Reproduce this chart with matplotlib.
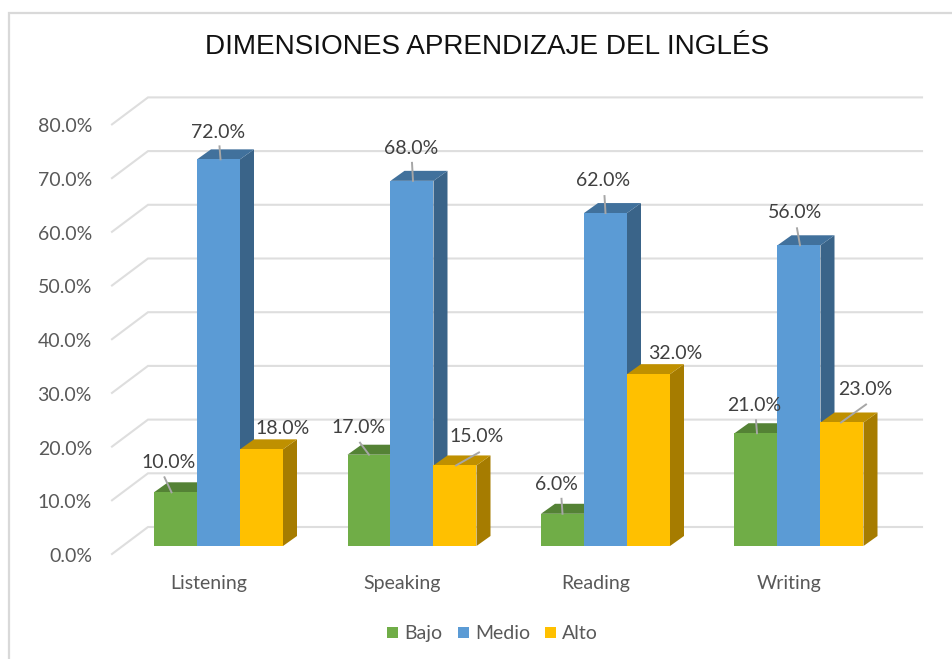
from matplotlib import pyplot as plt
from matplotlib.patches import Polygon

plt.rcParams['font.family'] = ['Lato', 'DejaVu Sans']

categories = ["Listening", "Speaking", "Reading", "Writing"]
bajo = [10.0, 17.0, 6.0, 21.0]
medio = [72.0, 68.0, 62.0, 56.0]
alto = [18.0, 15.0, 32.0, 23.0]
series_names = ["Bajo", "Medio", "Alto"]
y_ticks = [0, 10, 20, 30, 40, 50, 60, 70, 80]

front_colors = ["#70AD47", "#5B9BD5", "#FFC000"]
top_colors = ["#548235", "#41719C", "#BF9000"]
side_colors = ["#4E7A32", "#3A6489", "#A67C00"]
grid_color = "#DEDEDE"
text_color = "#595959"

# one x unit is one category, one y unit is one percent
PX_X = 193.5
PX_Y = 5.37
W, H = 952, 659
BASE_PX = 546.0
FIRST_PX = 218.5

# label centre, then leader start and end, as pixel offsets from the bar top centre
bajo_layout = [(-7, 31, -4, 0, -11, 15), (-10, 29, 0, 0, -9, 12),
               (-6, 31, 0, 0, -1, 15), (-2, 29, 1, 0, 0, 13)]
medio_layout = [(0, 28, 2, 0, 1, 13), (-1, 34, 1, 0, 0, 18),
                (-2, 34, 0, 0, -1, 17), (-4, 34, 1, 0, -2, 17)]
alto_layout = [(21, 22, None, None, None, None), (22, 30, 1, 0, 24, 13),
               (27, 22, None, None, None, None), (23, 34, -1, 0, 24, 18)]


def px_x(p):
    return (p - FIRST_PX) / PX_X


def px_y(p):
    return (BASE_PX - p) / PX_Y


fig = plt.figure(figsize=(W / 100, H / 100), dpi=100)
ax = fig.add_axes([0, 0, 1, 1])
ax.set_xlim(px_x(0), px_x(W))
ax.set_ylim(px_y(H), px_y(0))
ax.axis("off")

bar_w = 43 / PX_X
depth_x, depth_y = 14 / PX_X, 10 / PX_Y
wall_dx, wall_dy = 36 / PX_X, 27 / PX_Y
floor_x = px_x(112)
floor_y = -8 / PX_Y
wall_right = px_x(922)

# frame, only left and top show in the crop
ax.plot([px_x(9), px_x(9), px_x(W)], [px_y(H), px_y(13), px_y(13)],
        color="#D9D9D9", lw=1.6, zorder=1, solid_joinstyle="miter")

# back wall grid with the diagonal floor ticks
for t in y_ticks:
    y0 = floor_y + t
    ax.plot([floor_x, floor_x + wall_dx, wall_right], [y0, y0 + wall_dy, y0 + wall_dy],
            color=grid_color, lw=1.5, zorder=2, solid_joinstyle="miter")
    ax.text(floor_x - 20 / PX_X, y0 - 1 / PX_Y, f"{t:.1f}%", ha="right",
            va="center_baseline", fontsize=14, color=text_color)

all_values = [bajo, medio, alto]
all_layouts = [bajo_layout, medio_layout, alto_layout]

z = 3
for i, cat in enumerate(categories):
    for s, values in enumerate(all_values):
        v = values[i]
        left = i + (s - 1.5) * bar_w
        right = left + bar_w
        ax.bar(left, v, width=bar_w, align="edge", color=front_colors[s], zorder=z + 2)
        ax.add_patch(Polygon([(left, v), (left + depth_x, v + depth_y),
                              (right + depth_x, v + depth_y), (right, v)],
                             closed=True, fc=top_colors[s], ec="none", zorder=z + 1))
        ax.add_patch(Polygon([(right, 0), (right + depth_x, depth_y),
                              (right + depth_x, v + depth_y), (right, v)],
                             closed=True, fc=side_colors[s], ec="none", zorder=z))
        z += 3
    ax.text(i - 10 / PX_X, px_y(583), cat, ha="center", va="center",
            fontsize=14, color=text_color, zorder=100)

# value labels with their small leader lines
for i in range(len(categories)):
    for s, values in enumerate(all_values):
        v = values[i]
        center = i + (s - 1) * bar_w
        lx, ly, x1, y1, x2, y2 = all_layouts[s][i]
        if x1 is not None:
            ax.plot([center + x1 / PX_X, center + x2 / PX_X], [v + y1 / PX_Y, v + y2 / PX_Y],
                    color="#A6A6A6", lw=1.4, zorder=98)
        ax.text(center + lx / PX_X, v + ly / PX_Y, f"{v:.1f}%", ha="center",
                va="center_baseline", fontsize=14, color="#404040", zorder=100)

# title
ax.text(px_x(487), px_y(47), "DIMENSIONES APRENDIZAJE DEL INGLÉS", ha="center", va="center",
        fontsize=20.1, color="#111111", family="Liberation Sans")

# legend
legend_x = [387, 458, 545]
for name, c, lx in zip(series_names, front_colors, legend_x):
    ax.bar(px_x(lx), 11 / PX_Y, width=11 / PX_X, bottom=px_y(638), align="edge",
           color=c, zorder=100)
    ax.text(px_x(lx + 17), px_y(632), name, ha="left", va="center_baseline",
            fontsize=14, color=text_color)

fig.savefig("out.png", dpi=100)
